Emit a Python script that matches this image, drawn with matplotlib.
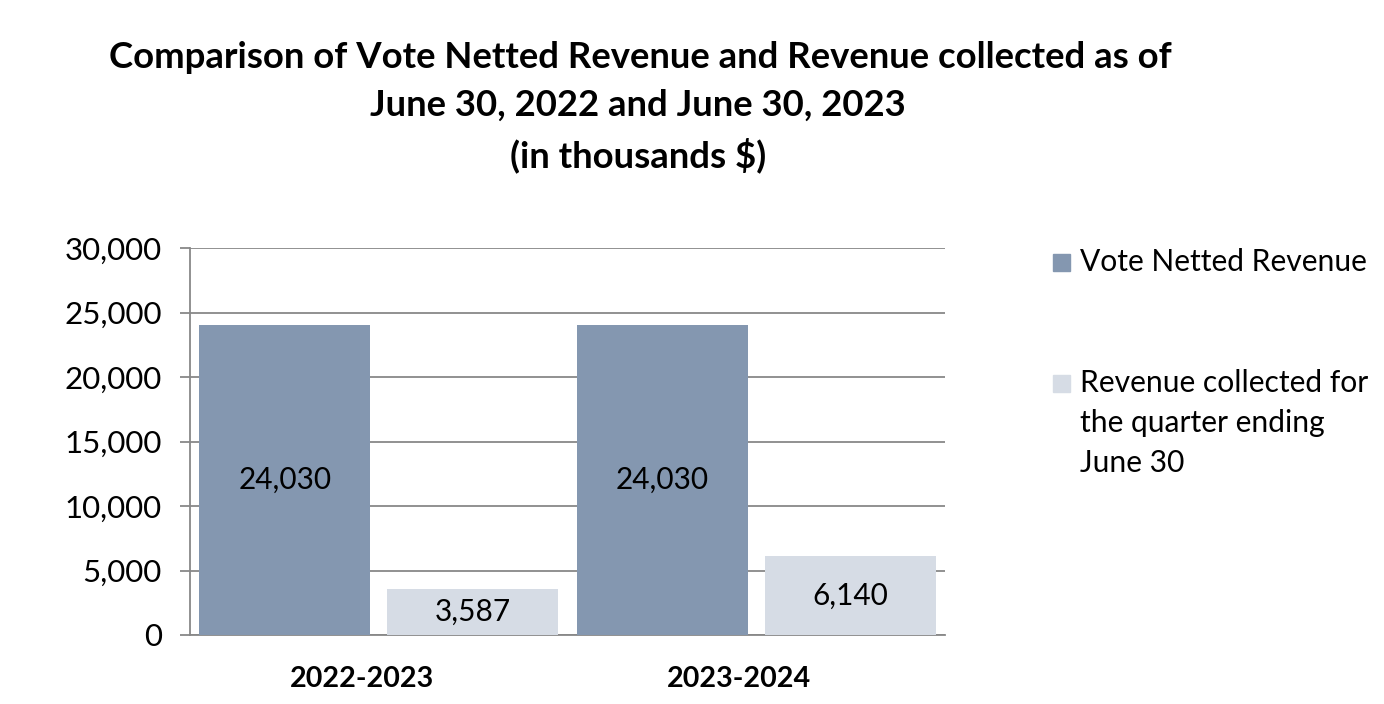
import matplotlib
matplotlib.use("Agg")
import matplotlib.pyplot as plt
from matplotlib.patches import Rectangle
from matplotlib.transforms import ScaledTranslation
import numpy as np

plt.rcParams['font.family'] = ['Lato', 'DejaVu Sans']

categories = ["2022-2023", "2023-2024"]
series_names = ["Vote Netted Revenue", "Revenue collected for\nthe quarter ending\nJune 30"]
vote_netted = [24030, 24030]
collected = [3587, 6140]
yticks = [0, 5000, 10000, 15000, 20000, 25000, 30000]
colors = ["#8497B0", "#D6DCE5"]

W, H = 1384, 704
fig = plt.figure(figsize=(W / 100, H / 100), dpi=100)
ax = fig.add_axes([190 / W, 1 - 635 / H, (945 - 190) / W, (635 - 248) / H])

x = np.arange(len(categories))
bw = 0.453
off = 0.249
b1 = ax.bar(x - off, vote_netted, bw, color=colors[0], zorder=3)
b2 = ax.bar(x + off, collected, bw, color=colors[1], zorder=3)

for bars in (b1, b2):
    for r in bars:
        v = r.get_height()
        ax.text(r.get_x() + r.get_width() / 2, v / 2, f"{v:,.0f}",
                ha="center", va="center", fontsize=21.4, color="black", zorder=4)

ax.set_xlim(-0.5, 1.5)
ax.set_ylim(0, 30000)
ax.set_yticks(yticks)
ax.set_yticklabels([f"{t:,}" for t in yticks], fontsize=22.5)
ax.set_xticks(x)
ax.set_xticklabels(categories, fontsize=20.6, fontweight="bold")
ax.tick_params(axis="x", length=0, pad=22)
ax.tick_params(axis="y", length=7.2, width=1.3, color="#888888", pad=13, direction="out")
for lab in ax.get_xticklabels():
    lab.set_transform(lab.get_transform() + ScaledTranslation(-0.17, 0, fig.dpi_scale_trans))
ax.grid(axis="y", color="#888888", linewidth=1.3, zorder=0)
for s in ["top", "right"]:
    ax.spines[s].set_visible(False)
ax.spines["left"].set_color("#888888")
ax.spines["left"].set_linewidth(1.3)
ax.spines["bottom"].set_color("#888888")
ax.spines["bottom"].set_linewidth(1.3)

# Title
tfs = 26.3
fig.text(640 / W, 1 - 57 / H, "Comparison of Vote Netted Revenue and Revenue collected as of",
         ha="center", va="center", fontsize=tfs, fontweight="bold")
fig.text(638 / W, 1 - 105 / H, "June 30, 2022 and June 30, 2023",
         ha="center", va="center", fontsize=tfs, fontweight="bold")
fig.text(638 / W, 1 - 155 / H, "(in thousands $)",
         ha="center", va="center", fontsize=tfs, fontweight="bold")

# Legend (manual)
sq = 17
lfs = 21.6
entry_y = [262, 383]
for name, col, y0 in zip(series_names, colors, entry_y):
    fig.patches.append(Rectangle((1053 / W, 1 - (y0 + sq / 2) / H), sq / W, sq / H,
                                 transform=fig.transFigure, color=col))
    for i, line in enumerate(name.split("\n")):
        fig.text(1080 / W, 1 - (y0 + 40 * i) / H, line, ha="left", va="center", fontsize=lfs)

fig.savefig("out.png", dpi=100)
